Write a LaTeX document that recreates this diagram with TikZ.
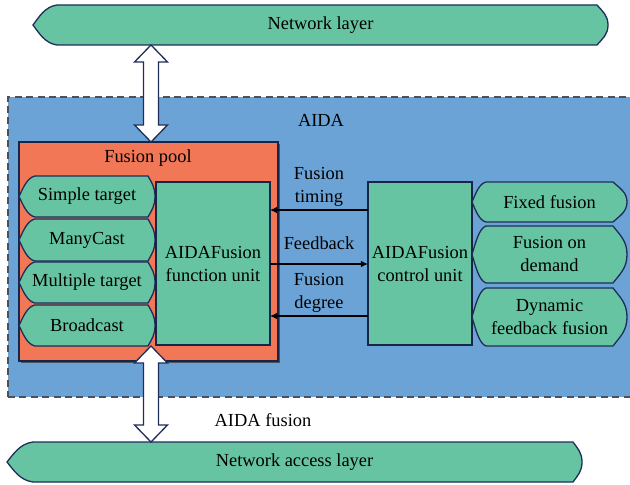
\documentclass[tikz,border=0pt]{standalone}
\usepackage{fontspec}
\setmainfont{Liberation Serif}
\usetikzlibrary{calc,arrows.meta,shadows}

\definecolor{tealfill}{RGB}{102,196,163}
\definecolor{bluefill}{RGB}{108,163,214}
\definecolor{poolfill}{RGB}{241,119,87}
\definecolor{navy}{RGB}{30,45,90}
\definecolor{dashgray}{RGB}{75,80,90}

% "display" outline: pointed left end, rounded right end
\makeatletter
\newdimen\dsL \newdimen\dsR \newdimen\dsT \newdimen\dsB
\newdimen\dsa \newdimen\dsb \newdimen\dsM \newdimen\dsh
\def\dispL{6pt}\def\dispR{4pt}
\pgfdeclareshape{display}{%
  \inheritsavedanchors[from=rectangle]%
  \inheritanchorborder[from=rectangle]%
  \inheritanchor[from=rectangle]{center}%
  \inheritanchor[from=rectangle]{mid}%
  \inheritanchor[from=rectangle]{base}%
  \inheritanchor[from=rectangle]{north}%
  \inheritanchor[from=rectangle]{south}%
  \inheritanchor[from=rectangle]{east}%
  \inheritanchor[from=rectangle]{west}%
  \inheritanchor[from=rectangle]{north east}%
  \inheritanchor[from=rectangle]{north west}%
  \inheritanchor[from=rectangle]{south east}%
  \inheritanchor[from=rectangle]{south west}%
  \backgroundpath{%
    \southwest \dsL=\pgf@x \dsB=\pgf@y
    \northeast \dsR=\pgf@x \dsT=\pgf@y
    \pgfmathsetlength\dsa{\dispL}%
    \pgfmathsetlength\dsb{\dispR}%
    \dsM=.5\dsT \advance\dsM by .5\dsB
    \dsh=\dsT \advance\dsh by -\dsB
    \pgfpathmoveto{\pgfpoint{\dsL+\dsa}{\dsT}}%
    \pgfpathlineto{\pgfpoint{\dsR-\dsb}{\dsT}}%
    \pgfpathcurveto{\pgfpoint{\dsR-0.5*\dsb}{\dsT-0.16*\dsh}}%
                   {\pgfpoint{\dsR}{\dsM+0.24*\dsh}}%
                   {\pgfpoint{\dsR}{\dsM}}%
    \pgfpathcurveto{\pgfpoint{\dsR}{\dsM-0.24*\dsh}}%
                   {\pgfpoint{\dsR-0.5*\dsb}{\dsB+0.16*\dsh}}%
                   {\pgfpoint{\dsR-\dsb}{\dsB}}%
    \pgfpathlineto{\pgfpoint{\dsL+\dsa}{\dsB}}%
    \pgfpathcurveto{\pgfpoint{\dsL+0.5*\dsa}{\dsB+0.04*\dsh}}%
                   {\pgfpoint{\dsL+0.25*\dsa}{\dsM-0.2*\dsh}}%
                   {\pgfpoint{\dsL}{\dsM}}%
    \pgfpathcurveto{\pgfpoint{\dsL+0.25*\dsa}{\dsM+0.2*\dsh}}%
                   {\pgfpoint{\dsL+0.5*\dsa}{\dsT-0.04*\dsh}}%
                   {\pgfpoint{\dsL+\dsa}{\dsT}}%
    \pgfpathclose
  }%
}
\makeatother

\tikzset{
  disp left/.code={\def\dispL{#1}},
  disp right/.code={\def\dispR{#1}},
  disp/.style={shape=display, draw=navy, fill=tealfill, line width=0.65pt,
    inner sep=1pt, outer sep=0pt, align=center},
  unitbox/.style={rectangle, draw=navy!80!black, fill=tealfill, line width=0.6pt,
    inner sep=1pt, outer sep=0pt, align=center,
    drop shadow={shadow xshift=0.5pt, shadow yshift=-0.5pt, fill=black!70, opacity=0.8}},
  poolbox/.style={rectangle, draw=navy!80!black, fill=poolfill, line width=0.6pt,
    outer sep=0pt,
    drop shadow={shadow xshift=0.8pt, shadow yshift=-0.8pt, fill=black!75, opacity=0.8}},
  aidabox/.style={rectangle, draw=dashgray, fill=bluefill, line width=0.6pt,
    dash pattern=on 3.5pt off 2.2pt, outer sep=0pt},
  flowarrow/.style={draw=black, line width=0.6pt, -{Latex[length=3.6pt,width=3.4pt]}},
  blockarr/.style={draw=navy, fill=white, line width=0.65pt, line join=miter},
  lbl/.style={inner sep=0pt, align=center},
}

% vertical two-headed block arrow between two points (first one above)
\newcommand\twowayblock[2]{%
  \path[blockarr] let \p1=#1, \p2=#2 in
    (\x1,\y1) -- (\x1+8.25pt,\y1-8.5pt) -- (\x1+3.75pt,\y1-8.5pt)
    -- (\x1+3.75pt,\y2+8.5pt) -- (\x1+8.25pt,\y2+8.5pt) -- (\x1,\y2)
    -- (\x1-8.25pt,\y2+8.5pt) -- (\x1-3.75pt,\y2+8.5pt)
    -- (\x1-3.75pt,\y1-8.5pt) -- (\x1-8.25pt,\y1-8.5pt) -- cycle;}

\begin{document}
\begin{tikzpicture}[x=0.5pt, y=-0.5pt, font=\fontsize{9.2}{11.5}\selectfont]
\useasboundingbox (0,0) rectangle (630,485);
\clip (0,0) rectangle (630,485);

% outer layers
\node[disp, minimum width=287.5pt, minimum height=20pt, disp left=12pt, disp right=5.5pt]
  (net) at (320.5,25) {Network layer};
\node[disp, minimum width=287.5pt, minimum height=20pt, disp left=13pt, disp right=4.5pt]
  (acc) at (294.5,462) {Network access layer};

% AIDA region, running on past the right edge
\node[aidabox, minimum width=336pt, minimum height=150pt] (aida) at (344,247) {};
\node[lbl] (aidatitle) at (321,120) {AIDA};

% fusion pool
\node[poolbox, minimum width=129.5pt, minimum height=109.5pt] (pool) at (148.5,251.5) {};
\node[lbl] (pooltitle) at (148,158) {Fusion pool};

\node[disp, minimum width=68pt, minimum height=20.5pt, disp left=8pt, disp right=3.5pt]
  (st) at (87,196.5) {Simple target};
\node[disp, minimum width=68pt, minimum height=21pt, disp left=8pt, disp right=3.5pt]
  (mc) at (87,240) {ManyCast};
\node[disp, minimum width=68pt, minimum height=20.5pt, disp left=8pt, disp right=3.5pt]
  (mt) at (87,282.5) {Multiple target};
\node[disp, minimum width=68pt, minimum height=20.5pt, disp left=8pt, disp right=3.5pt]
  (bc) at (87,325.5) {Broadcast};

\node[unitbox, minimum width=57pt, minimum height=81.5pt] (fu) at (213,263.5)
  {AIDAFusion\\function unit};

% control side
\node[unitbox, minimum width=52pt, minimum height=81.5pt] (cu) at (420,263.5)
  {AIDAFusion\\control unit};

\node[disp, minimum width=77.5pt, minimum height=20pt, disp left=7pt, disp right=7pt]
  (ff) at (549.5,202) {Fixed fusion};
\node[disp, minimum width=77.5pt, minimum height=28.5pt, disp left=7pt, disp right=7pt]
  (fd) at (549.5,254.5) {Fusion on\\demand};
\node[disp, minimum width=77.5pt, minimum height=29pt, disp left=7pt, disp right=7pt]
  (dyn) at (549.5,317) {Dynamic\\feedback fusion};

% signals between the units
\coordinate (ytiming) at (0,210);
\coordinate (yfeed) at (0,264);
\coordinate (ydeg) at (0,316);
\draw[flowarrow] (cu.west |- ytiming) -- (fu.east |- ytiming)
  node[lbl, midway, yshift=11.5pt] (ltiming) {Fusion\\timing};
\draw[flowarrow] (fu.east |- yfeed) -- (cu.west |- yfeed)
  node[lbl, midway, yshift=10.5pt] (lfeed) {Feedback};
\draw[flowarrow] (cu.west |- ydeg) -- (fu.east |- ydeg)
  node[lbl, midway, yshift=11.75pt] (ldeg) {Fusion\\degree};

% block arrows to the outer layers
\coordinate (ax) at (151,0);
\twowayblock{(ax |- net.south)}{(ax |- pool.north)}
\twowayblock{(ax |- bc.south)}{(ax |- acc.north)}
\node[lbl] (aidafusion) at (263,420) {AIDA fusion};

\end{tikzpicture}
\end{document}
